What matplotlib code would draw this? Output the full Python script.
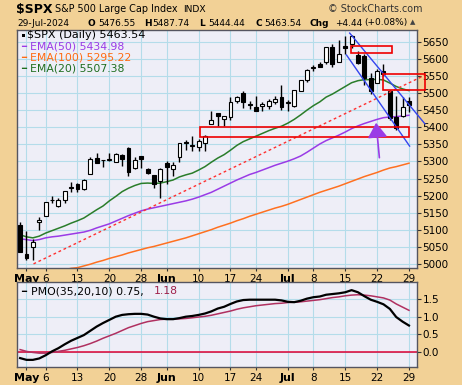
import matplotlib.pyplot as plt
from matplotlib.patches import Rectangle, FancyArrowPatch
import numpy as np

# trading days Apr 30 .. Jul 29 2024
days = ['04-30', '05-01', '05-02', '05-03', '05-06', '05-07', '05-08', '05-09', '05-10',
        '05-13', '05-14', '05-15', '05-16', '05-17', '05-20', '05-21', '05-22', '05-23', '05-24',
        '05-28', '05-29', '05-30', '05-31', '06-03', '06-04', '06-05', '06-06', '06-07',
        '06-10', '06-11', '06-12', '06-13', '06-14', '06-17', '06-18', '06-20', '06-21',
        '06-24', '06-25', '06-26', '06-27', '06-28', '07-01', '07-02', '07-03', '07-05',
        '07-08', '07-09', '07-10', '07-11', '07-12', '07-15', '07-16', '07-17', '07-18', '07-19',
        '07-22', '07-23', '07-24', '07-25', '07-26', '07-29']

opens = [5114, 5029, 5049, 5123, 5142, 5187, 5169, 5189, 5225, 5233, 5221, 5263, 5310, 5303,
         5305, 5299, 5319, 5340, 5281, 5316, 5279, 5260, 5243, 5297, 5278, 5314, 5358, 5344,
         5341, 5353, 5409, 5442, 5424, 5431, 5476, 5500, 5467, 5460, 5461, 5461, 5474, 5488,
         5471, 5462, 5507, 5538, 5573, 5584, 5591, 5635, 5591, 5638, 5644, 5610, 5609, 5543,
         5528, 5565, 5506, 5429, 5434, 5477]
highs = [5123, 5096, 5073, 5139, 5181, 5200, 5192, 5215, 5240, 5237, 5250, 5312, 5325, 5305,
         5325, 5324, 5323, 5342, 5312, 5316, 5282, 5260, 5280, 5302, 5299, 5354, 5362, 5375,
         5366, 5376, 5447, 5442, 5432, 5488, 5490, 5506, 5478, 5491, 5473, 5483, 5491, 5524,
         5480, 5510, 5539, 5570, 5583, 5591, 5635, 5642, 5656, 5667, 5670, 5622, 5614, 5558,
         5570, 5585, 5508, 5492, 5488, 5488]
lows = [5035, 5013, 5011, 5101, 5142, 5179, 5166, 5180, 5210, 5211, 5218, 5263, 5296, 5284,
        5302, 5298, 5286, 5257, 5278, 5281, 5263, 5222, 5192, 5234, 5258, 5298, 5335, 5331,
        5332, 5331, 5409, 5403, 5404, 5420, 5471, 5456, 5452, 5448, 5447, 5452, 5468, 5451,
        5447, 5458, 5507, 5532, 5563, 5575, 5586, 5577, 5590, 5615, 5632, 5585, 5523, 5497,
        5528, 5551, 5420, 5391, 5431, 5444]
closes = [5036, 5018, 5064, 5128, 5181, 5188, 5188, 5214, 5223, 5221, 5247, 5308, 5297, 5303,
          5308, 5321, 5307, 5268, 5305, 5306, 5267, 5235, 5278, 5283, 5291, 5354, 5353, 5347,
          5361, 5375, 5421, 5434, 5432, 5473, 5487, 5473, 5465, 5448, 5469, 5478, 5483, 5460,
          5475, 5509, 5537, 5567, 5573, 5577, 5634, 5585, 5615, 5631, 5667, 5588, 5545, 5505,
          5564, 5556, 5427, 5399, 5459, 5464]

ema20 = [5086, 5080, 5077, 5082, 5091, 5098, 5105, 5112, 5120, 5127, 5135, 5147, 5159, 5170,
         5185, 5198, 5212, 5222, 5230, 5236, 5237, 5236, 5237, 5241, 5246, 5255, 5261, 5266,
         5275, 5285, 5298, 5310, 5320, 5333, 5347, 5358, 5366, 5374, 5382, 5390, 5397, 5403,
         5412, 5423, 5436, 5450, 5463, 5474, 5488, 5497, 5508, 5519, 5530, 5536, 5539, 5539,
         5540, 5538, 5529, 5519, 5512, 5507]
ema50 = [5074, 5072, 5069, 5072, 5077, 5080, 5082, 5085, 5088, 5091, 5094, 5099, 5106, 5112,
         5118, 5126, 5134, 5142, 5149, 5156, 5161, 5165, 5169, 5173, 5177, 5181, 5185, 5190,
         5196, 5203, 5210, 5219, 5228, 5237, 5246, 5254, 5262, 5268, 5275, 5282, 5289, 5295,
         5301, 5308, 5316, 5327, 5339, 5351, 5361, 5369, 5377, 5386, 5396, 5404, 5411, 5417,
         5423, 5428, 5430, 5431, 5433, 5435]
ema100 = [4962, 4963, 4965, 4968, 4972, 4976, 4980, 4984, 4988, 4990, 4995, 5000, 5006, 5011,
          5017, 5022, 5027, 5033, 5038, 5043, 5048, 5052, 5057, 5062, 5067, 5072, 5077, 5083,
          5089, 5095, 5101, 5108, 5114, 5120, 5127, 5133, 5140, 5146, 5152, 5158, 5164, 5169,
          5175, 5182, 5189, 5196, 5203, 5210, 5216, 5222, 5228, 5235, 5242, 5249, 5256, 5262,
          5268, 5275, 5281, 5285, 5290, 5295]

pmo = [-0.17, -0.22, -0.22, -0.18, -0.09, 0.02, 0.11, 0.22, 0.32, 0.40, 0.48, 0.60, 0.72, 0.82,
       0.91, 1.00, 1.05, 1.07, 1.08, 1.08, 1.06, 1.00, 0.95, 0.93, 0.93, 0.96, 1.00, 1.02,
       1.05, 1.09, 1.15, 1.23, 1.28, 1.36, 1.43, 1.47, 1.48, 1.48, 1.48, 1.48, 1.48, 1.46,
       1.42, 1.41, 1.45, 1.51, 1.55, 1.57, 1.62, 1.64, 1.66, 1.69, 1.75, 1.69, 1.58, 1.48,
       1.42, 1.35, 1.22, 0.99, 0.86, 0.75]
pmo_signal = [0.07, 0.02, -0.01, -0.03, -0.03, -0.01, 0.02, 0.05, 0.09, 0.13, 0.18, 0.24, 0.31,
              0.39, 0.46, 0.53, 0.61, 0.69, 0.75, 0.81, 0.86, 0.89, 0.92, 0.93, 0.93, 0.94,
              0.95, 0.97, 0.99, 1.01, 1.04, 1.08, 1.12, 1.16, 1.21, 1.25, 1.28, 1.31, 1.33,
              1.35, 1.37, 1.38, 1.40, 1.41, 1.42, 1.44, 1.46, 1.48, 1.51, 1.54, 1.56, 1.59,
              1.61, 1.62, 1.61, 1.59, 1.56, 1.53, 1.47, 1.36, 1.27, 1.18]

tick_pos = [1, 4, 9, 14, 19, 23, 28, 33, 37, 42, 46, 51, 56, 61]
tick_labels = ['May', '6', '13', '20', '28', 'Jun', '10', '17', '24', 'Jul', '8', '15', '22', '29']
months = ['May', 'Jun', 'Jul']

# hand-drawn annotations (bar index, price)
trend_x, trend_y = [2.1, 63.6], [5001, 5553]
chan_up_x, chan_up_y = [51.7, 63.5], [5675, 5410]
chan_lo_x, chan_lo_y = [51.2, 61.1], [5611, 5345]
boxes = [(51.9, 5616, 58.4, 5637.5), (56.9, 5508, 63.5, 5555), (28.2, 5371, 61.0, 5400)]
arrow_from, arrow_to = (56.4, 5303), (55.8, 5421)

TAN = '#F2D196'
PANEL = '#EEEEF7'
GRID = '#B4DCEA'
W, H = 462, 385

def fx(x):
    return x / W

def fy(y):
    return 1 - y / H

fig = plt.figure(figsize=(W / 100, H / 100), dpi=100, facecolor=TAN)
ax = fig.add_axes([fx(17), fy(268), 400 / W, 238 / H])
ax2 = fig.add_axes([fx(17), fy(367.3), 400 / W, 85.3 / H])

x = np.arange(len(closes))
for a in (ax, ax2):
    a.set_facecolor(PANEL)
    a.set_xlim(-0.49, 62.26)
    for s in a.spines.values():
        s.set_color('#555560')
        s.set_linewidth(1)
    a.yaxis.tick_right()
    a.tick_params(axis='y', length=3, pad=1, labelsize=7.5, colors='#333333')
    a.tick_params(axis='x', length=2, pad=2, labelsize=7.5, colors='#333333')
    a.set_xticks(tick_pos)
    a.set_xticklabels(tick_labels)
    for lab in a.get_xticklabels():
        lab.set_color('black')
        if lab.get_text() in months:
            lab.set_fontweight('bold')
            lab.set_fontsize(8)
    for lab in a.get_yticklabels():
        lab.set_color('black')
    a.grid(True, color=GRID, lw=0.8)
    a.set_axisbelow(True)

# price panel
ax.set_ylim(4989, 5684)
ax.set_yticks(range(5000, 5651, 50))

for i in x:
    o, h, l, c = opens[i], highs[i], lows[i], closes[i]
    ax.vlines(i, l, h, color='black', lw=1, zorder=3)
    ax.add_patch(Rectangle((i - 0.31, min(o, c)), 0.62, max(abs(c - o), 1.5),
                           facecolor='black' if c < o else 'white',
                           edgecolor='black', lw=0.8, zorder=4))

ax.plot(x, ema100, color='#FF7020', lw=1.1, zorder=2)
ax.plot(x, ema50, color='#9A3BE6', lw=1.1, zorder=2)
ax.plot(x, ema20, color='#2A7D2A', lw=1.1, zorder=2)

ax.plot(trend_x, trend_y, color='#FF3030', lw=1, ls=(0, (2, 2)), zorder=5, clip_on=False)
ax.plot(chan_up_x, chan_up_y, color='#3344EE', lw=1, zorder=5, clip_on=False)
ax.plot(chan_lo_x, chan_lo_y, color='#3344EE', lw=1, zorder=5, clip_on=False)
for x0, y0, x1, y1 in boxes:
    ax.add_patch(Rectangle((x0, y0), x1 - x0, y1 - y0, fill=False, edgecolor='#EE0000',
                           lw=1.2, zorder=5, clip_on=False))
ax.add_patch(FancyArrowPatch(arrow_from, arrow_to, arrowstyle='-|>,head_length=6,head_width=4',
                             color='#9A3BE6', lw=1.2, zorder=6, mutation_scale=1.5))

# PMO panel
ax2.set_ylim(-0.43, 1.98)
ax2.set_yticks([0, 0.5, 1.0, 1.5])
ax2.set_yticklabels(['0.0', '0.5', '1.0', '1.5'])
for lab in ax2.get_yticklabels():
    lab.set_color('black')
ax2.axhline(0, color='#DD0033', lw=1.1, zorder=2)
ax2.plot(x, pmo_signal, color='#B03060', lw=1.1, zorder=3)
ax2.plot(x, pmo, color='black', lw=1.6, zorder=4)

# header
fig.text(fx(16), fy(10), '$SPX', fontsize=9, fontweight='bold', va='center')
fig.text(fx(55), fy(9), 'S&P 500 Large Cap Index', fontsize=6.9, va='center')
fig.text(fx(183), fy(9), 'INDX', fontsize=6.6, va='center')
fig.text(fx(328), fy(9), '© StockCharts.com', fontsize=6.9, va='center', color='#333333')

hdr = [(17, '29-Jul-2024', 'normal'), (88, 'O', 'bold'), (98, '5476.55', 'normal'),
       (144, 'H', 'bold'), (152, '5487.74', 'normal'), (199, 'L', 'bold'),
       (208, '5444.44', 'normal'), (255, 'C', 'bold'), (264, '5463.54', 'normal'),
       (310, 'Chg', 'bold'), (335, '+4.44', 'normal'), (364, '(+0.08%)', 'normal')]
for px_, s, w in hdr:
    fig.text(fx(px_), fy(23), s, fontsize=6.5, fontweight=w, va='center')
fig.text(fx(410), fy(22), '▲', fontsize=5, va='center', color='#444444')

# legends
fig.text(fx(27), fy(35.5), '$SPX (Daily) 5463.54', fontsize=8, va='center')
ax.add_patch(Rectangle((0.012, 0.97), 0.008, 0.012, transform=ax.transAxes,
                       facecolor='black', clip_on=False, zorder=7))
leg = [(46.5, 'EMA(50) 5434.98', '#9A3BE6'), (57.5, 'EMA(100) 5295.22', '#FF6A10'),
       (68.5, 'EMA(20) 5507.38', '#1F6E1F')]
for py, s, col in leg:
    fig.text(fx(21), fy(py), '━', fontsize=6, va='center', color=col)
    fig.text(fx(30), fy(py), s, fontsize=7.8, va='center', color=col)

fig.text(fx(21), fy(291), '━', fontsize=6, va='center', color='black')
fig.text(fx(31), fy(291), 'PMO(35,20,10) 0.75,', fontsize=7.8, va='center')
fig.text(fx(154), fy(291), '1.18', fontsize=7.8, va='center', color='#A0204A')

fig.savefig('out.png', dpi=100, facecolor=TAN)
